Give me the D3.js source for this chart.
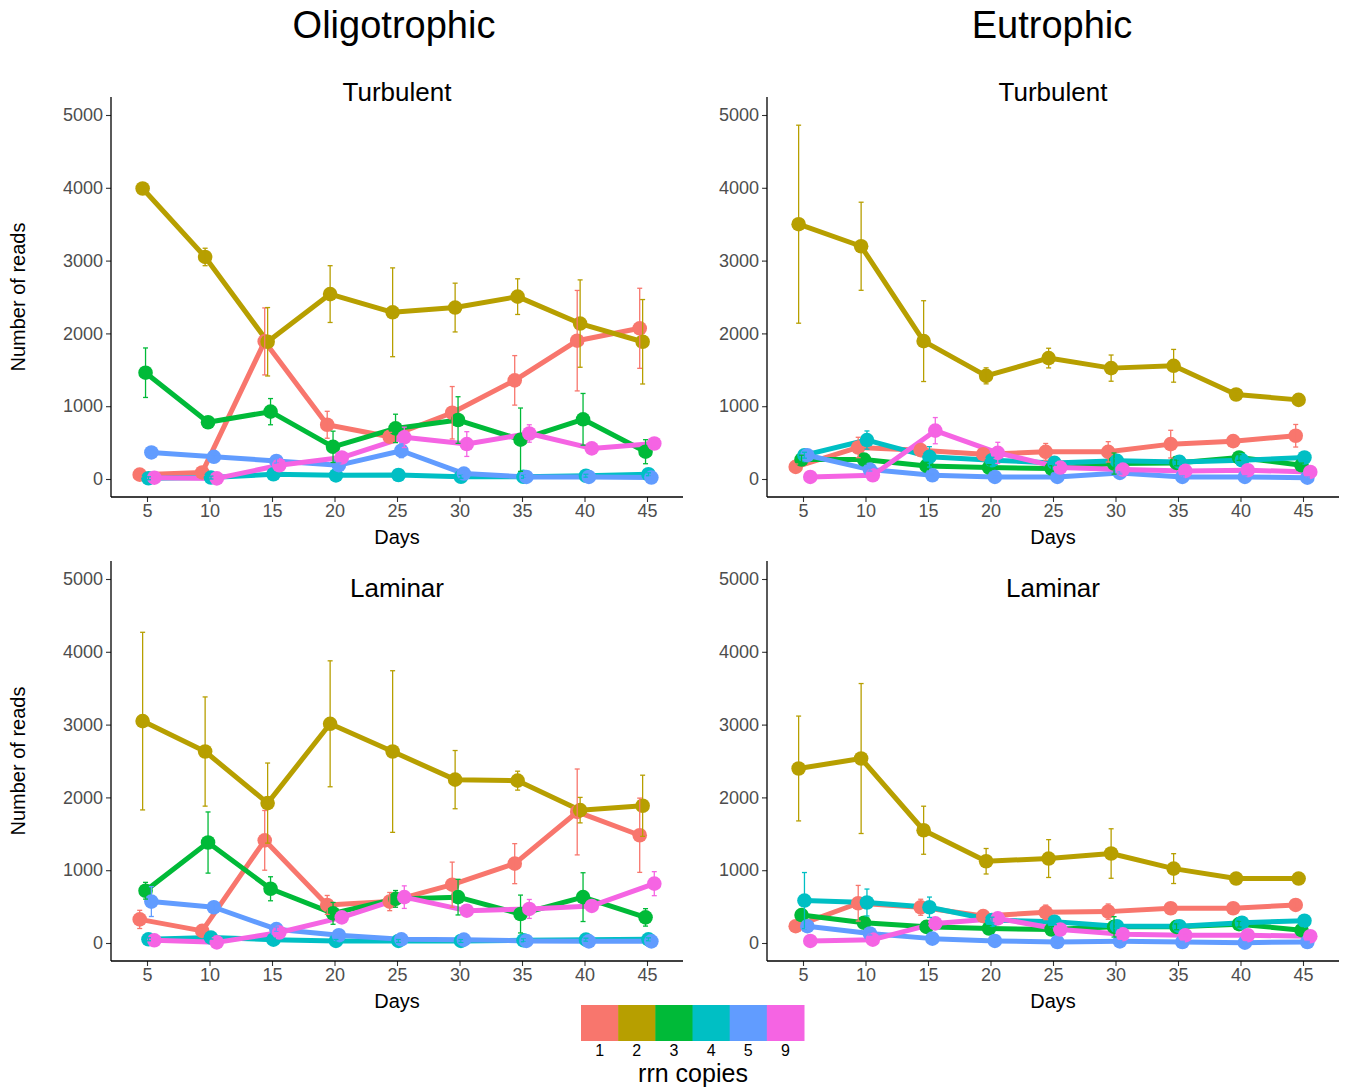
<!DOCTYPE html>
<html><head><meta charset="utf-8">
<script src="https://cdn.jsdelivr.net/npm/d3@7"></script>
<style>body{margin:0;background:#fff}svg text{font-family:"Liberation Sans",Arial,Helvetica,sans-serif}</style>
</head><body>
<svg id="c" width="1346" height="1088"></svg>
<script>
const days = [5, 10, 15, 20, 25, 30, 35, 40, 45];
const copies = ["1", "2", "3", "4", "5", "9"];
const colors = ["#F8766D", "#B79F00", "#00BA38", "#00BFC4", "#619CFF", "#F564E3"];
const yTicks = [0, 1000, 2000, 3000, 4000, 5000];

// Oligotrophic / Turbulent
const otMean = [
  [60, 90, 1890, 745, 580, 910, 1355, 1900, 2070],
  [3990, 3050, 1885, 2540, 2290, 2355, 2505, 2135, 1885],
  [1460, 780, 925, 442, 695, 810, 540, 820, 375],
  [10, 20, 65, 50, 55, 30, 30, 45, 65],
  [365, 305, 248, 190, 388, 75, 28, 28, 20],
  [18, 8, 188, 295, 572, 480, 625, 420, 488]
];
const otSe = [
  [30, 40, 460, 185, 60, 360, 340, 690, 550],
  [40, 120, 470, 390, 610, 335, 245, 600, 580],
  [340, 60, 180, 215, 195, 320, 435, 355, 165],
  [20, 20, 20, 20, 20, 20, 20, 20, 20],
  [30, 30, 30, 30, 95, 30, 20, 20, 20],
  [15, 15, 20, 30, 140, 170, 120, 40, 40]
];
// Eutrophic / Turbulent
const etMean = [
  [166, 433, 396, 341, 373, 373, 479, 520, 594],
  [3500, 3197, 1894, 1417, 1661, 1523, 1555, 1161, 1087],
  [267, 267, 180, 157, 143, 212, 221, 295, 189],
  [327, 535, 304, 258, 221, 249, 235, 258, 295],
  [327, 129, 51, 28, 28, 83, 28, 28, 18],
  [28, 51, 664, 359, 157, 129, 111, 120, 97]
];
const etSe = [
  [40, 140, 60, 60, 115, 140, 190, 50, 155],
  [1360, 605, 555, 110, 135, 180, 225, 40, 40],
  [60, 60, 50, 40, 40, 145, 40, 40, 30],
  [40, 125, 140, 40, 30, 30, 30, 30, 30],
  [20, 20, 15, 15, 15, 15, 15, 15, 10],
  [15, 15, 180, 145, 30, 30, 20, 20, 20]
];
// Oligotrophic / Laminar
const olMean = [
  [324, 167, 1410, 523, 569, 801, 1090, 1800, 1480],
  [3048, 2630, 1922, 3011, 2630, 2244, 2230, 1825, 1885],
  [718, 1380, 745, 407, 606, 630, 398, 630, 352],
  [51, 74, 46, 28, 28, 28, 37, 46, 51],
  [569, 491, 190, 106, 51, 46, 28, 23, 23],
  [37, 9, 144, 352, 630, 444, 468, 509, 815]
];
const olSe = [
  [125, 40, 410, 130, 125, 310, 275, 590, 510],
  [1220, 750, 550, 865, 1110, 400, 130, 175, 420],
  [115, 420, 165, 150, 115, 245, 260, 335, 120],
  [20, 20, 20, 20, 20, 20, 20, 20, 20],
  [205, 40, 30, 20, 20, 20, 20, 20, 20],
  [15, 15, 30, 40, 155, 40, 130, 40, 165]
];
// Eutrophic / Laminar
const elMean = [
  [231, 546, 491, 370, 421, 431, 477, 477, 523],
  [2397, 2534, 1549, 1123, 1160, 1229, 1022, 885, 885],
  [384, 278, 222, 199, 185, 222, 222, 259, 176],
  [583, 556, 491, 315, 292, 231, 231, 278, 306],
  [231, 130, 60, 28, 14, 23, 14, 5, 14],
  [28, 46, 269, 338, 185, 120, 106, 106, 93]
];
const elSe = [
  [40, 245, 110, 40, 100, 105, 40, 40, 40],
  [720, 1030, 330, 175, 260, 340, 205, 40, 40],
  [40, 40, 40, 40, 40, 140, 40, 40, 30],
  [385, 185, 140, 40, 40, 30, 30, 30, 30],
  [30, 20, 15, 15, 10, 10, 10, 10, 10],
  [15, 15, 40, 40, 80, 30, 20, 20, 20]
];

const svg = d3.select("#c");
const color = d3.scaleOrdinal().domain(copies).range(colors);
const dodgeW = 1.4;

const panels = [
  {title: "Turbulent", mean: otMean, se: otSe, x0: 111, x1: 683, top: 97, zero: 479, five: 115, bottom: 497, titleY: 101},
  {title: "Turbulent", mean: etMean, se: etSe, x0: 767, x1: 1339, top: 97, zero: 479, five: 115, bottom: 497, titleY: 101},
  {title: "Laminar", mean: olMean, se: olSe, x0: 111, x1: 683, top: 561, zero: 943, five: 579, bottom: 961, titleY: 597},
  {title: "Laminar", mean: elMean, se: elSe, x0: 767, x1: 1339, top: 561, zero: 943, five: 579, bottom: 961, titleY: 597}
];

panels.forEach(p => {
  const x = d3.scaleLinear().domain([5, 45]).range([p.x0 + 36, p.x1 - 36]);
  const y = d3.scaleLinear().domain([0, 5000]).range([p.zero, p.five]);
  const g = svg.append("g");
  const off = i => (i - (copies.length - 1) / 2) * dodgeW / copies.length;

  const series = copies.map((c, i) => ({
    key: c, i,
    pts: days.map((d, j) => ({d, v: p.mean[i][j], e: p.se[i][j]}))
  }));

  const line = d3.line().x(q => q.px).y(q => y(q.v));
  series.forEach(s => s.pts.forEach(q => q.px = x(q.d + off(s.i))));

  g.selectAll("path.ln").data(series).join("path")
    .attr("fill", "none").attr("stroke", s => color(s.key))
    .attr("stroke-width", 5).attr("stroke-linejoin", "round")
    .attr("d", s => line(s.pts));

  series.forEach(s => {
    g.selectAll(null).data(s.pts).join("circle")
      .attr("cx", q => q.px).attr("cy", q => y(q.v)).attr("r", 7.3)
      .attr("fill", color(s.key));
  });

  series.forEach(s => {
    const eb = g.selectAll(null).data(s.pts).join("g")
      .attr("stroke", color(s.key)).attr("stroke-width", 1.3).attr("fill", "none");
    eb.append("line").attr("x1", q => q.px).attr("x2", q => q.px)
      .attr("y1", q => y(q.v - q.e)).attr("y2", q => y(q.v + q.e));
    eb.append("line").attr("x1", q => q.px - 2.5).attr("x2", q => q.px + 2.5)
      .attr("y1", q => y(q.v - q.e)).attr("y2", q => y(q.v - q.e));
    eb.append("line").attr("x1", q => q.px - 2.5).attr("x2", q => q.px + 2.5)
      .attr("y1", q => y(q.v + q.e)).attr("y2", q => y(q.v + q.e));
  });

  // axes
  const ax = g.append("g").attr("transform", `translate(${p.x0},0)`)
    .call(d3.axisLeft(y).tickValues(yTicks).tickFormat(d3.format("d")).tickSize(5).tickPadding(3));
  const bx = g.append("g").attr("transform", `translate(0,${p.bottom})`)
    .call(d3.axisBottom(x).tickValues(days).tickSize(5).tickPadding(2));
  [ax, bx].forEach(a => {
    a.select(".domain").remove();
    a.selectAll(".tick line").attr("stroke", "#333").attr("stroke-width", 1.1);
    a.selectAll(".tick text").attr("fill", "#4D4D4D").style("font-size", "18px");
  });
  g.append("line").attr("x1", p.x0).attr("x2", p.x0).attr("y1", p.top).attr("y2", p.bottom)
    .attr("stroke", "#000").attr("stroke-width", 1.3);
  g.append("line").attr("x1", p.x0).attr("x2", p.x1).attr("y1", p.bottom).attr("y2", p.bottom)
    .attr("stroke", "#000").attr("stroke-width", 1.3);

  g.append("text").attr("x", (p.x0 + p.x1) / 2).attr("y", p.titleY)
    .attr("text-anchor", "middle").style("font-size", "26px").text(p.title);
  g.append("text").attr("x", (p.x0 + p.x1) / 2).attr("y", p.bottom + 47)
    .attr("text-anchor", "middle").style("font-size", "20px").text("Days");
  if (p.x0 < 500) {
    g.append("text").attr("transform", `translate(25,${(p.top + p.bottom) / 2}) rotate(-90)`)
      .attr("text-anchor", "middle").style("font-size", "20px").text("Number of reads");
  }
});

svg.append("text").attr("x", 394).attr("y", 38).attr("text-anchor", "middle")
  .style("font-size", "38px").text("Oligotrophic");
svg.append("text").attr("x", 1052).attr("y", 38).attr("text-anchor", "middle")
  .style("font-size", "38px").text("Eutrophic");

// legend
const lx = d3.scaleBand().domain(copies).range([581, 804]);
const lg = svg.append("g");
lg.selectAll("rect").data(copies).join("rect")
  .attr("x", c => lx(c)).attr("y", 1005).attr("width", lx.bandwidth() + 0.5).attr("height", 36)
  .attr("fill", c => color(c));
lg.selectAll("text.lab").data(copies).join("text")
  .attr("x", c => lx(c) + lx.bandwidth() / 2).attr("y", 1056)
  .attr("text-anchor", "middle").style("font-size", "16px").text(c => c);
lg.append("text").attr("x", 693).attr("y", 1082).attr("text-anchor", "middle")
  .style("font-size", "25px").text("rrn copies");
</script>
</body></html>
